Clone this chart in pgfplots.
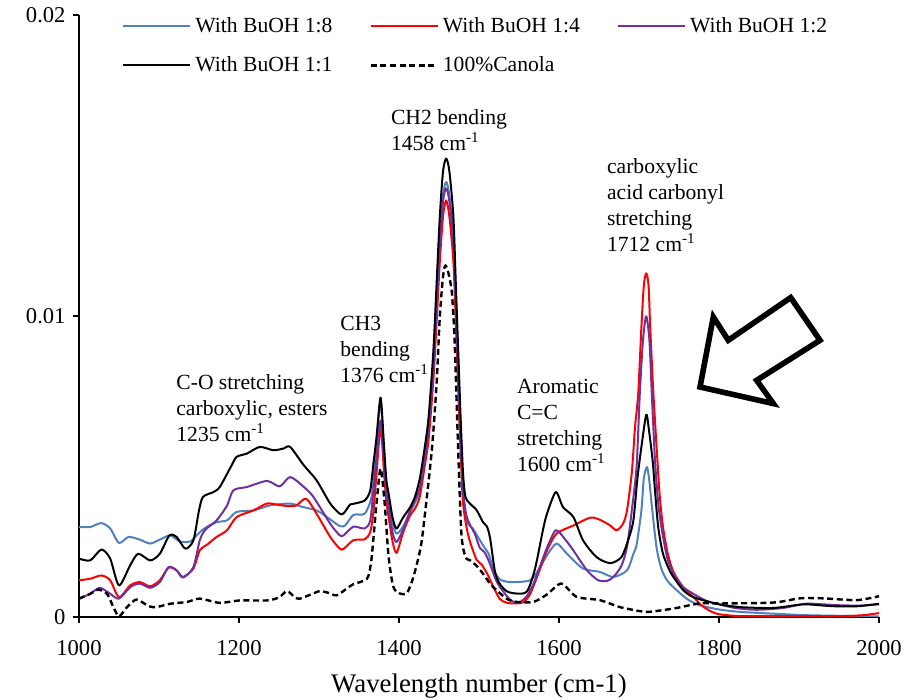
\documentclass[border=0pt]{standalone}
\usepackage{fontspec}
\setmainfont{Liberation Serif}
\usepackage{pgfplots}
\pgfplotsset{compat=1.18}
\definecolor{cBlue}{RGB}{79,129,189}
\definecolor{cRed}{RGB}{255,0,0}
\definecolor{cPurple}{RGB}{112,48,160}
\begin{document}
\begin{tikzpicture}
\begin{axis}[name=ax, scale only axis, width=400pt, height=301pt,
 xmin=1000, xmax=2000, ymin=0, ymax=20,
 xtick={1000,1200,...,2000}, ytick={0,10,20}, yticklabels={0,0.01,0.02},
 axis x line*=bottom, axis y line*=left, axis line style={-, line width=0.9pt},
 tick align=outside, major tick length=3.2pt, tick style={line width=0.9pt, black},
 /pgf/number format/assume math mode=true, /pgf/number format/1000 sep={},
 ticklabel style={font=\fontsize{11.3}{13}\selectfont},
 xticklabel style={yshift=-5pt},
 xlabel={Wavelength number (cm-1)}, xlabel style={font=\fontsize{13.4}{15}\selectfont, yshift=-2pt},
 clip mode=individual,
 legend columns=3, legend cell align=left,
 legend style={draw=none, fill=none, at={(rel axis cs:0,1)}, anchor=north west, xshift=21.5pt, yshift=-1pt,
   inner sep=0pt, row sep=10.5pt, font=\fontsize{10.8}{12}\selectfont,
   nodes={inner sep=0pt},
   /tikz/every odd column/.append style={column sep=2pt},
   /tikz/every even column/.append style={column sep=18.5pt}},
 legend image code/.code={\draw[#1] (0pt,0pt) -- (33.5pt,0pt);},
 every axis plot/.append style={line width=1pt, line join=round, smooth, tension=0.45},
]
% 1:8
\addplot[color=cBlue] coordinates {
(1000,2.99)(1014,2.99)(1028,3.12)(1039,2.94)(1050,2.46)(1062,2.66)(1076,2.57)(1089,2.44)(1101,2.57)(1114,2.71)(1126,2.51)(1139,2.51)(1151,2.82)(1160,3.00)(1172,3.15)(1185,3.21)(1197,3.49)(1218,3.54)(1239,3.71)(1264,3.77)(1276,3.68)(1297,3.54)(1310,3.32)(1326,3.02)(1333,3.05)(1343,3.39)(1357,3.43)(1365,3.9)(1368,4.5)(1372,5.8)(1377,7.14)(1381,5.6)(1384,4.4)(1387,3.87)(1392,3.1)(1397,2.77)(1405,3.0)(1414,3.49)(1420,3.8)(1426,4.2)(1432,5.1)(1437,6.3)(1443,8.3)(1447,10.4)(1451,12.4)(1455,14.0)(1459,14.45)(1463,14.0)(1468,12.6)(1471,10.5)(1474,8.3)(1477,6.0)(1480,4.3)(1483,3.5)(1486,3.1)(1492,2.95)(1500,2.6)(1507,2.3)(1512,2.1)(1518,1.6)(1526,1.25)(1540,1.16)(1564,1.22)(1575,1.6)(1585,2.05)(1597,2.44)(1610,2.10)(1630,1.61)(1651,1.50)(1668,1.33)(1685,1.55)(1693,2.1)(1697,2.4)(1703,3.54)(1706,4.6)(1710,4.98)(1713,4.5)(1716,3.7)(1722,2.3)(1728,1.6)(1735,1.22)(1743,0.99)(1760,0.6)(1776,0.39)(1800,0.25)(1826,0.17)(1868,0.11)(1910,0.06)(1950,0.04)(2000,0.02)};
\addlegendentry{With BuOH 1:8}
% 1:4
\addplot[color=cRed] coordinates {
(1000,1.22)(1014,1.27)(1028,1.38)(1039,1.22)(1050,0.66)(1064,1.05)(1076,1.16)(1089,1.02)(1101,1.22)(1112,1.64)(1122,1.55)(1130,1.33)(1143,1.61)(1151,2.22)(1160,2.4)(1172,2.66)(1185,2.88)(1197,3.32)(1218,3.54)(1235,3.77)(1250,3.72)(1264,3.68)(1272,3.71)(1284,3.93)(1297,3.43)(1314,2.66)(1326,2.27)(1331,2.27)(1343,2.55)(1357,2.58)(1364,2.82)(1368,3.5)(1372,4.8)(1377,6.31)(1381,4.9)(1384,3.9)(1387,3.32)(1392,2.5)(1397,2.13)(1405,2.8)(1414,3.38)(1420,3.6)(1426,4.0)(1432,5.0)(1437,5.9)(1443,7.9)(1447,9.8)(1451,11.8)(1455,13.3)(1459,13.84)(1463,13.3)(1468,11.8)(1471,9.8)(1474,7.6)(1477,5.5)(1480,3.8)(1485,2.9)(1490,2.4)(1497,1.9)(1503,1.75)(1510,1.45)(1518,1.0)(1526,0.6)(1535,0.47)(1547,0.45)(1556,0.5)(1564,0.77)(1575,1.5)(1585,2.21)(1597,2.77)(1618,3.04)(1639,3.30)(1651,3.23)(1664,3.04)(1672,2.88)(1680,3.10)(1685,3.54)(1691,4.8)(1695,6.3)(1699,7.42)(1703,9.63)(1706,11.0)(1709,11.42)(1712,11.0)(1714,9.63)(1718,7.42)(1723,5.21)(1726,4.0)(1730,2.99)(1736,2.1)(1743,1.5)(1755,1.0)(1768,0.66)(1780,0.35)(1797,0.11)(1826,0.03)(1868,0.03)(1950,0.03)(1980,0.06)(2000,0.13)};
\addlegendentry{With BuOH 1:4}
% 1:2
\addplot[color=cPurple] coordinates {
(1000,0.61)(1014,0.77)(1026,0.97)(1039,0.77)(1050,0.61)(1064,0.99)(1076,1.11)(1089,0.97)(1101,1.16)(1112,1.66)(1122,1.55)(1130,1.31)(1143,1.66)(1151,2.55)(1158,2.9)(1172,3.21)(1185,3.7)(1193,4.21)(1210,4.32)(1235,4.52)(1251,4.34)(1264,4.65)(1281,4.32)(1293,3.99)(1314,3.10)(1326,2.71)(1331,2.72)(1343,3.0)(1357,2.94)(1364,3.2)(1368,4.2)(1372,5.3)(1377,6.53)(1381,5.2)(1384,4.2)(1387,3.65)(1392,2.8)(1397,2.49)(1405,2.9)(1414,3.54)(1420,3.9)(1426,4.3)(1432,5.2)(1437,6.3)(1443,8.2)(1447,10.3)(1451,12.3)(1455,13.8)(1459,14.24)(1463,13.8)(1468,12.4)(1471,10.3)(1474,8.1)(1477,5.9)(1480,4.2)(1484,3.4)(1489,3.05)(1495,2.75)(1501,2.3)(1507,2.15)(1514,1.75)(1520,1.3)(1526,1.0)(1540,0.55)(1551,0.50)(1560,0.7)(1568,1.1)(1576,1.66)(1585,2.3)(1596,2.88)(1607,2.6)(1618,2.21)(1635,1.55)(1649,1.22)(1660,1.2)(1668,1.33)(1678,1.7)(1685,2.33)(1691,3.54)(1697,5.0)(1701,7.42)(1705,9.2)(1709,9.99)(1713,9.2)(1716,7.42)(1720,5.21)(1724,3.8)(1728,2.99)(1735,2.0)(1743,1.44)(1755,1.0)(1768,0.77)(1783,0.55)(1797,0.44)(1820,0.3)(1847,0.24)(1880,0.3)(1908,0.44)(1930,0.42)(1951,0.39)(1975,0.38)(2000,0.42)};
\addlegendentry{With BuOH 1:2}
% 1:1
\addplot[color=black] coordinates {
(1000,1.94)(1014,1.88)(1028,2.24)(1039,1.94)(1050,1.05)(1064,1.72)(1074,2.10)(1089,1.88)(1101,2.10)(1113,2.71)(1122,2.66)(1133,2.27)(1143,2.55)(1150,3.54)(1155,3.99)(1168,4.15)(1176,4.32)(1190,5.0)(1197,5.32)(1210,5.43)(1226,5.65)(1243,5.54)(1256,5.6)(1264,5.65)(1281,5.04)(1297,4.54)(1314,3.77)(1326,3.43)(1331,3.45)(1339,3.74)(1343,3.76)(1357,3.87)(1364,4.2)(1368,5.09)(1372,6.0)(1377,7.29)(1381,5.8)(1384,4.6)(1387,4.1)(1392,3.3)(1397,2.94)(1405,3.3)(1414,3.65)(1420,4.0)(1426,4.6)(1432,5.6)(1437,6.64)(1443,8.86)(1447,11.08)(1451,13.29)(1455,14.8)(1459,15.23)(1463,14.8)(1468,13.29)(1471,11.08)(1474,8.86)(1477,6.64)(1480,4.8)(1483,4.0)(1489,3.76)(1497,3.55)(1505,3.15)(1510,3.0)(1514,2.6)(1520,1.5)(1526,1.1)(1535,0.85)(1547,0.78)(1560,0.85)(1570,1.6)(1580,2.9)(1585,3.43)(1596,4.15)(1605,3.65)(1618,3.32)(1630,2.55)(1647,1.99)(1664,1.79)(1678,1.99)(1687,2.6)(1693,3.21)(1698,4.6)(1703,5.65)(1709,6.72)(1712,6.3)(1717,5.21)(1720,4.2)(1724,2.99)(1730,2.1)(1739,1.5)(1743,1.33)(1755,0.9)(1768,0.66)(1797,0.44)(1826,0.33)(1868,0.30)(1905,0.42)(1930,0.38)(1951,0.35)(1975,0.36)(2000,0.44)};
\addlegendentry{With BuOH 1:1}
% canola
\addplot[color=black, line width=1.2pt, dash pattern=on 3pt off 1.8pt] coordinates {
(1000,0.61)(1014,0.77)(1024,0.91)(1035,0.77)(1043,0.33)(1050,0.02)(1060,0.33)(1072,0.58)(1087,0.36)(1097,0.33)(1114,0.44)(1135,0.50)(1151,0.61)(1176,0.47)(1201,0.55)(1235,0.55)(1250,0.65)(1260,0.86)(1270,0.65)(1276,0.61)(1290,0.75)(1301,0.86)(1312,0.8)(1322,0.72)(1335,0.95)(1343,1.09)(1360,1.27)(1365,1.8)(1368,2.6)(1372,3.8)(1377,4.93)(1382,3.8)(1387,2.0)(1393,1.0)(1401,0.78)(1410,0.8)(1418,1.33)(1427,2.3)(1432,3.32)(1441,5.54)(1447,7.75)(1451,9.97)(1455,11.3)(1458,11.68)(1462,11.4)(1466,10.8)(1469,9.5)(1471,8.0)(1474,5.54)(1478,2.77)(1483,2.0)(1489,1.88)(1497,1.7)(1505,1.44)(1514,1.1)(1522,0.89)(1535,0.6)(1547,0.50)(1568,0.50)(1585,0.75)(1603,1.11)(1622,0.67)(1651,0.56)(1676,0.33)(1700,0.2)(1712,0.17)(1743,0.28)(1776,0.45)(1805,0.45)(1868,0.48)(1901,0.62)(1930,0.62)(1972,0.56)(2000,0.69)};
\addlegendentry{100\%Canola}
% annotations
\begin{scope}[every node/.style={font=\fontsize{10.8}{12.9}\selectfont, align=left, anchor=north west, inner sep=0pt}]
\node at (axis cs:1121.25,8.06) {C-O stretching\\carboxylic, esters\\1235 cm\textsuperscript{-1}};
\node at (axis cs:1326.25,10.0) {CH3\\bending\\1376 cm\textsuperscript{-1}};
\node at (axis cs:1389.6,16.87) {CH2 bending\\1458 cm\textsuperscript{-1}};
\node at (axis cs:1659.6,15.23) {carboxylic\\acid carbonyl\\stretching\\1712 cm\textsuperscript{-1}};
\node at (axis cs:1547.1,7.9) {Aromatic\\C=C\\stretching\\1600 cm\textsuperscript{-1}};
\end{scope}
\draw[line width=2.8pt, line join=miter] (axis cs:1776.25,7.641) -- (axis cs:1792.9,9.967) -- (axis cs:1811.6,9.193) -- (axis cs:1889.6,10.611) -- (axis cs:1926.25,9.193) -- (axis cs:1847.1,7.864) -- (axis cs:1867.9,7.09) -- cycle;
\end{axis}
\pgfresetboundingbox
\path[use as bounding box] ([xshift=-39.5pt,yshift=-41.5pt]ax.south west) rectangle ([xshift=18.5pt,yshift=7.5pt]ax.north east);
\end{tikzpicture}
\end{document}
